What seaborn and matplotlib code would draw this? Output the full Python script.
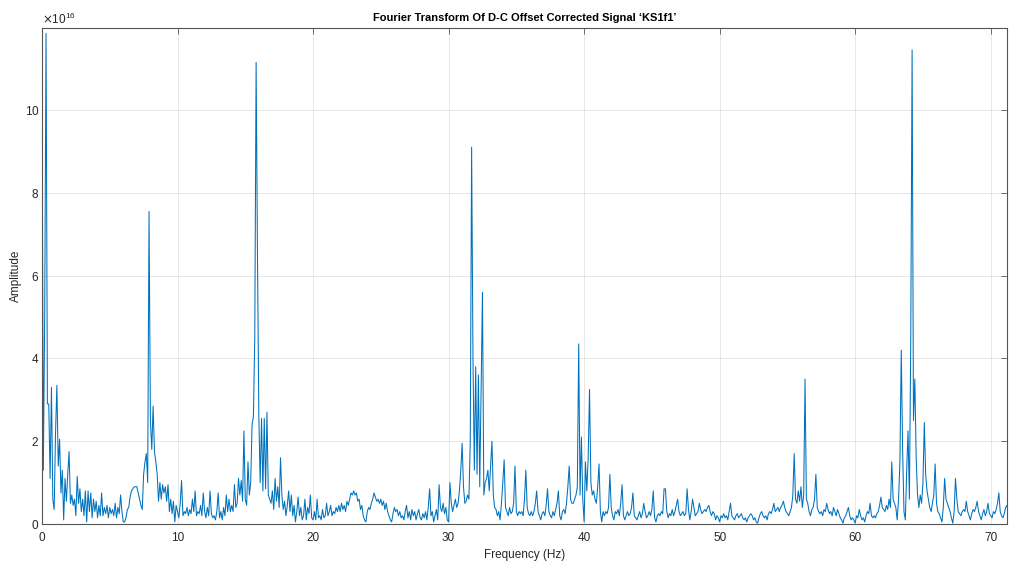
import matplotlib
matplotlib.use("Agg")
import matplotlib.pyplot as plt
import matplotlib.ticker as mticker
import seaborn as sns
import numpy as np
import pandas as pd

# amplitude, in units of 1e16, one value per 0.1 Hz bin
df_hz = 0.1
scale = 1e16

amp_0_10 = [
    11.0, 1.3, 5.0, 11.85, 2.9, 2.9, 1.1, 3.3, 0.6, 0.35,
    2.2, 3.35, 1.4, 2.05, 0.75, 1.3, 0.1, 1.1, 0.55, 1.2,
    1.75, 0.5, 0.7, 0.45, 0.6, 0.2, 1.15, 0.5, 0.85, 0.3,
    0.6, 0.2, 0.8, 0.05, 0.8, 0.3, 0.75, 0.15, 0.6, 0.3,
    0.55, 0.15, 0.45, 0.2, 0.75, 0.2, 0.4, 0.25, 0.45, 0.15,
    0.4, 0.25, 0.35, 0.2, 0.5, 0.15, 0.4, 0.25, 0.7, 0.3,
    0.05, 0.05, 0.15, 0.35, 0.4, 0.65, 0.8, 0.85, 0.9, 0.9,
    0.9, 0.75, 0.6, 0.45, 0.35, 1.2, 1.5, 1.7, 1.0, 7.55,
    2.5, 1.8, 2.85, 1.75, 1.5, 1.2, 0.55, 1.0, 0.6, 0.95,
    0.75, 0.9, 0.55, 0.95, 0.3, 0.6, 0.25, 0.55, 0.05, 0.45,
]
amp_10_20 = [
    0.3, 0.15, 0.5, 1.05, 0.2, 0.3, 0.25, 0.4, 0.2, 0.35,
    0.25, 0.6, 0.3, 0.8, 0.2, 0.3, 0.25, 0.45, 0.2, 0.75,
    0.3, 0.15, 0.4, 0.2, 0.8, 0.25, 0.15, 0.2, 0.1, 0.3,
    0.75, 0.15, 0.3, 0.1, 0.4, 0.2, 0.7, 0.3, 0.6, 0.3,
    0.45, 0.3, 0.95, 0.4, 0.5, 1.1, 0.7, 1.05, 0.55, 2.25,
    0.6, 0.45, 1.5, 0.7, 1.0, 2.4, 2.6, 4.5, 11.15, 6.5,
    2.6, 1.0, 2.55, 0.8, 2.55, 0.85, 2.7, 0.7, 0.6, 0.5,
    0.8, 0.35, 1.1, 0.55, 0.9, 0.4, 1.6, 0.7, 0.35, 0.55,
    0.2, 0.45, 0.8, 0.3, 0.7, 0.2, 0.45, 0.05, 0.3, 0.65,
    0.2, 0.4, 0.1, 0.2, 0.6, 0.1, 0.4, 0.25, 0.7, 0.15,
]
amp_20_30 = [
    0.1, 0.3, 0.1, 0.6, 0.15, 0.2, 0.1, 0.35, 0.15, 0.2,
    0.5, 0.2, 0.3, 0.45, 0.2, 0.3, 0.25, 0.4, 0.3, 0.45,
    0.3, 0.5, 0.35, 0.45, 0.3, 0.55, 0.45, 0.6, 0.75, 0.7,
    0.8, 0.7, 0.75, 0.55, 0.6, 0.35, 0.45, 0.2, 0.1, 0.05,
    0.3, 0.4, 0.35, 0.5, 0.6, 0.75, 0.65, 0.55, 0.6, 0.5,
    0.6, 0.45, 0.55, 0.35, 0.5, 0.3, 0.2, 0.1, 0.05, 0.25,
    0.4, 0.3, 0.35, 0.2, 0.3, 0.15, 0.2, 0.1, 0.3, 0.45,
    0.15, 0.3, 0.1, 0.35, 0.2, 0.3, 0.1, 0.25, 0.35, 0.15,
    0.1, 0.25, 0.15, 0.3, 0.1, 0.4, 0.85, 0.2, 0.3, 0.05,
    0.2, 0.35, 0.1, 0.95, 0.4, 0.3, 0.5, 0.25, 0.4, 0.1,
]
amp_30_40 = [
    0.05, 1.0, 0.5, 0.3, 0.45, 0.6, 0.4, 0.5, 0.8, 1.3,
    1.95, 0.9, 0.5, 0.55, 0.7, 0.6, 2.0, 9.1, 4.0, 1.3,
    3.8, 1.2, 3.6, 0.9, 3.25, 5.6, 0.7, 1.0, 1.1, 1.3,
    0.8, 1.4, 2.0, 0.7, 0.4, 0.35, 0.2, 0.3, 0.1, 0.5,
    1.0, 1.55, 0.4, 0.3, 0.2, 0.4, 0.25, 0.3, 0.5, 1.4,
    0.3, 0.2, 0.3, 0.25, 0.3, 0.2, 0.6, 1.3, 0.4, 0.25,
    0.2, 0.3, 0.2, 0.3, 0.5, 0.8, 0.3, 0.2, 0.1, 0.25,
    0.3, 0.2, 0.45, 0.85, 0.3, 0.2, 0.15, 0.3, 0.2, 0.35,
    0.5, 0.8, 0.2, 0.1, 0.3, 0.35, 0.25, 0.5, 0.9, 1.4,
    0.6, 0.5, 0.5, 0.6, 0.7, 0.9, 4.35, 0.7, 2.1, 0.6,
]
amp_40_50 = [
    0.05, 1.5, 0.8, 1.6, 3.25, 1.0, 0.7, 0.8, 0.6, 0.5,
    0.9, 1.45, 0.3, 0.05, 0.3, 0.2, 0.3, 0.25, 0.4, 1.2,
    0.4, 0.2, 0.1, 0.3, 0.25, 0.35, 0.2, 0.5, 0.95, 0.2,
    0.1, 0.2, 0.3, 0.2, 0.25, 0.4, 0.75, 0.2, 0.15, 0.1,
    0.2, 0.3, 0.15, 0.25, 0.5, 0.3, 0.15, 0.2, 0.3, 0.2,
    0.35, 0.8, 0.15, 0.05, 0.2, 0.25, 0.2, 0.3, 0.25, 0.85,
    0.85, 0.3, 0.15, 0.25, 0.2, 0.35, 0.2, 0.3, 0.45, 0.6,
    0.3, 0.2, 0.25, 0.3, 0.2, 0.25, 0.85, 0.35, 0.1, 0.3,
    0.6, 0.4, 0.2, 0.25, 0.3, 0.5, 0.35, 0.25, 0.3, 0.35,
    0.3, 0.4, 0.45, 0.3, 0.2, 0.3, 0.25, 0.1, 0.2, 0.15,
]
amp_50_60 = [
    0.05, 0.2, 0.15, 0.25, 0.15, 0.2, 0.1, 0.3, 0.5, 0.2,
    0.15, 0.1, 0.2, 0.25, 0.15, 0.2, 0.25, 0.15, 0.1, 0.15,
    0.05, 0.15, 0.2, 0.25, 0.2, 0.1, 0.15, 0.05, 0.02, 0.15,
    0.25, 0.3, 0.2, 0.15, 0.2, 0.1, 0.25, 0.3, 0.25, 0.35,
    0.5, 0.3, 0.35, 0.4, 0.3, 0.4, 0.45, 0.55, 0.4, 0.3,
    0.25, 0.2, 0.3, 0.4, 0.7, 1.7, 0.6, 0.5, 0.8, 0.55,
    0.9, 0.4, 0.7, 3.5, 0.6, 0.5, 0.3, 0.2, 0.35, 0.4,
    0.6, 1.2, 0.4, 0.3, 0.25, 0.3, 0.2, 0.35, 0.3, 0.5,
    0.35, 0.25, 0.3, 0.2, 0.4, 0.3, 0.2, 0.35, 0.25, 0.15,
    0.1, 0.02, 0.15, 0.2, 0.3, 0.4, 0.2, 0.1, 0.15, 0.1,
]
amp_60_71 = [
    0.02, 0.2, 0.15, 0.35, 0.2, 0.1, 0.15, 0.05, 0.2, 0.3,
    0.25, 0.5, 0.2, 0.15, 0.2, 0.15, 0.25, 0.3, 0.45, 0.65,
    0.4, 0.35, 0.3, 0.45, 0.35, 0.6, 0.4, 1.5, 0.6, 0.5,
    0.4, 0.1, 0.6, 1.5, 4.2, 1.8, 0.3, 0.1, 1.3, 2.25,
    0.6, 4.45, 11.45, 2.5, 3.5, 1.6, 0.7, 0.4, 0.7, 0.5,
    1.0, 2.45, 1.2, 0.8, 0.6, 0.4, 0.3, 0.5, 0.7, 1.45,
    0.5, 0.3, 0.25, 0.15, 0.05, 0.4, 1.1, 0.6, 0.5, 0.4,
    0.3, 0.15, 0.02, 0.3, 1.1, 0.6, 0.3, 0.25, 0.2, 0.3,
    0.35, 0.3, 0.55, 0.3, 0.2, 0.1, 0.25, 0.35, 0.3, 0.4,
    0.55, 0.3, 0.2, 0.1, 0.25, 0.35, 0.2, 0.3, 0.5, 0.25,
    0.2, 0.15, 0.3, 0.25, 0.35, 0.5, 0.75, 0.3, 0.2, 0.15,
    0.25, 0.4, 0.45, 0.3,
]

segments = [amp_0_10, amp_10_20, amp_20_30, amp_30_40, amp_40_50, amp_50_60]
for seg in segments:
    assert len(seg) == 100, len(seg)

amplitude = np.concatenate(segments + [amp_60_71])
frequency = np.arange(len(amplitude)) * df_hz

df_plot = pd.DataFrame({"Frequency": frequency, "Amplitude": amplitude * scale})

sns.set_style("whitegrid", rc={
    "axes.edgecolor": "#555555",
    "grid.color": "#e3e3e3",
    "axes.linewidth": 0.7,
})
plt.rcParams["font.family"] = ["Liberation Sans", "DejaVu Sans"]
text_color = "#262626"

fig = plt.figure(figsize=(10.09, 5.62), dpi=100)
ax = fig.add_axes([0.0416, 0.0676, 0.9564, 0.8826])

sns.lineplot(data=df_plot, x="Frequency", y="Amplitude", ax=ax,
             color="#0072BD", linewidth=0.75, estimator=None)

ax.set_xlim(0, 71.2)
ax.set_ylim(0, 11.98 * scale)
ax.set_xticks(np.arange(0, 71, 10))
ax.set_yticks(np.arange(0, 11, 2) * scale)

fmt = mticker.ScalarFormatter(useMathText=True)
fmt.set_powerlimits((16, 16))
ax.yaxis.set_major_formatter(fmt)
ax.yaxis.get_offset_text().set_fontsize(8.5)
ax.yaxis.get_offset_text().set_color(text_color)

ax.grid(True, linewidth=0.6)
ax.tick_params(direction="in", top=True, right=True, length=4, width=0.6,
               color="#555555", labelsize=8.5, labelcolor=text_color)
ax.tick_params(axis="x", pad=6)
ax.tick_params(axis="y", pad=2)

ax.set_xlabel("Frequency (Hz)", fontsize=8.5, color=text_color, labelpad=3)
ax.set_ylabel("Amplitude", fontsize=8.5, color=text_color, labelpad=2)
ax.set_title("Fourier Transform Of D-C Offset Corrected Signal \u2018KS1f1\u2019",
             fontsize=8, fontweight="bold", color="black", pad=5)

fig.savefig("out.png", dpi=100)
